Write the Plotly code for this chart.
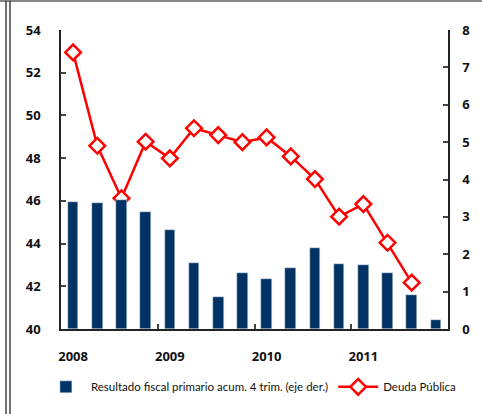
import plotly.graph_objects as go

# quarters 2008Q1 .. 2011Q4
quarters = list(range(16))
year_labels = ["2008", "2009", "2010", "2011"]
year_pos = [0, 4, 8, 12]
left_ticks = [40, 42, 44, 46, 48, 50, 52, 54]
right_ticks = [0, 1, 2, 3, 4, 5, 6, 7, 8]

# Resultado fiscal primario acum. 4 trim. (% PIB, eje der.)
resultado = [3.40, 3.37, 3.45, 3.13, 2.65, 1.76, 0.86, 1.50,
             1.34, 1.63, 2.17, 1.74, 1.71, 1.50, 0.91, 0.24]

# Deuda Pública (% PIB, eje izq.)
deuda = [52.95, 48.58, 46.12, 48.77, 47.99, 49.40, 49.08, 48.75,
         48.97, 48.08, 47.02, 45.26, 45.85, 44.04, 42.17, None]

NAVY = "#003264"
RED = "#ff0000"
FONT = "Lato"
TICK_FONT = "Noto Sans"


def bold(vals):
    return ["<b>%s</b>" % v for v in vals]


fig = go.Figure()
fig.add_trace(go.Bar(
    x=quarters, y=resultado, yaxis="y2",
    name="Resultado fiscal primario acum. 4 trim. (eje der.)",
    marker_color=NAVY, width=0.44,
))
fig.add_trace(go.Scatter(
    x=quarters, y=deuda, name="Deuda Pública",
    mode="lines+markers",
    line=dict(color=RED, width=2.5),
    marker=dict(symbol="diamond", size=12, color="white",
                line=dict(color=RED, width=2.5)),
))

axis_line = dict(showline=True, linecolor="#222", linewidth=1.5,
                 showgrid=False, zeroline=False)
tick_font = dict(size=13, family=TICK_FONT, color="#111", weight="bold")

fig.update_layout(
    width=482, height=414,
    margin=dict(l=61, r=34, t=30, b=85, autoexpand=False),
    plot_bgcolor="white", paper_bgcolor="white",
    font=dict(family=FONT, color="#111"),
    xaxis=dict(
        range=[-0.5, 15.5], tickmode="array", tickvals=year_pos,
        ticktext=bold(year_labels), ticks="", ticklabelstandoff=15,
        tickfont=tick_font,
        minor=dict(tickmode="array", tickvals=[3.5, 7.5, 11.5],
                   ticks="inside", ticklen=5, tickcolor="#444", tickwidth=1.5),
        **axis_line,
    ),
    yaxis=dict(
        range=[40, 54], tickmode="array", tickvals=left_ticks,
        ticktext=bold(left_ticks), ticks="inside", ticklen=5,
        tickcolor="#444", tickwidth=1.5, ticklabelstandoff=16,
        tickfont=tick_font,
        **axis_line,
    ),
    yaxis2=dict(
        range=[0, 8], tickmode="array", tickvals=right_ticks,
        ticktext=bold(right_ticks), overlaying="y", side="right",
        ticks="inside", ticklen=5, tickcolor="#444", tickwidth=1.5,
        ticklabelstandoff=10,
        tickfont=tick_font,
        **axis_line,
    ),
    showlegend=True,
    legend=dict(
        orientation="h", x=-0.052, y=-0.145, xanchor="left", yanchor="top",
        font=dict(size=11.5, family=FONT), traceorder="normal",
        itemwidth=40, tracegroupgap=0,
    ),
    bargap=0,
)

# outer frame lines
frame = dict(type="line", xref="paper", yref="paper",
             line=dict(color="#111", width=1.2))
fig.add_shape(**frame, x0=-0.1421, x1=-0.1421, y0=1.097, y1=-0.30)
fig.add_shape(**frame, x0=-0.1318, x1=-0.1318, y0=1.097, y1=-0.30)
fig.add_shape(**frame, x0=-0.16, x1=1.09, y0=1.097, y1=1.097)

fig.write_html(
    "out.html",
    config={"displayModeBar": False},
    post_script="document.body.style.margin='0';",
)
